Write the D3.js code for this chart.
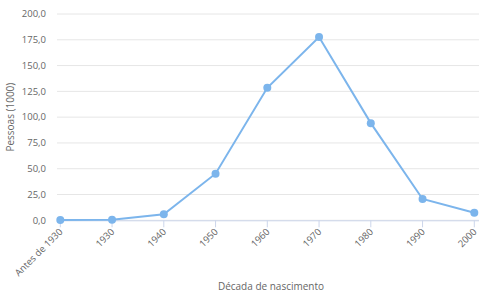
<!DOCTYPE html>
<html>
<head>
<meta charset="utf-8">
<script src="https://cdn.jsdelivr.net/npm/d3@7"></script>
<style>
  body { margin: 0; background: #fff; }
  svg { font-family: "Open Sans", sans-serif; }
</style>
</head>
<body>
<svg id="chart" width="494" height="302"></svg>
<script>
// chart data
const decades = ["Antes de 1930", "1930", "1940", "1950", "1960", "1970", "1980", "1990", "2000"];
const people = [0.4, 0.6, 5.8, 45.2, 128.4, 177.7, 94.2, 20.7, 7.4];
const yTicks = [0, 25, 50, 75, 100, 125, 150, 175, 200];

const svg = d3.select("#chart");
const plotLeft = 57, plotRight = 479;

let x = d3.scalePoint()
  .domain(decades)
  .range([60.3, 474.3]);

let y = d3.scaleLinear()
  .domain([0, 200])
  .range([220.3, 14]);

// grid lines
svg.append("g")
  .selectAll("line")
  .data(yTicks)
  .enter()
  .append("line")
  .attr("x1", plotLeft)
  .attr("x2", plotRight)
  .attr("y1", d => y(d))
  .attr("y2", d => y(d))
  .attr("stroke", "#e6e6e6")
  .attr("stroke-width", 1);

// y labels
const fmt = d => d3.format(".1f")(d).replace(".", ",");
svg.append("g")
  .selectAll("text")
  .data(yTicks)
  .enter()
  .append("text")
  .attr("x", 46)
  .attr("y", d => y(d))
  .attr("dy", "0.35em")
  .attr("text-anchor", "end")
  .attr("font-size", 9.5)
  .attr("fill", "#666")
  .text(fmt);

// x axis line + ticks
svg.append("line")
  .attr("x1", plotLeft)
  .attr("x2", plotRight)
  .attr("y1", y(0) + 0.5)
  .attr("y2", y(0) + 0.5)
  .attr("stroke", "#ccd6eb");

svg.append("g")
  .selectAll("line")
  .data(decades)
  .enter()
  .append("line")
  .attr("x1", d => x(d))
  .attr("x2", d => x(d))
  .attr("y1", y(0))
  .attr("y2", y(0) + 7)
  .attr("stroke", "#ccd6eb");

// x labels, rotated
svg.append("g")
  .selectAll("text")
  .data(decades)
  .enter()
  .append("text")
  .attr("transform", d => `translate(${x(d) + 3},${y(0) + 12}) rotate(-45)`)
  .attr("text-anchor", "end")
  .attr("font-size", 9.5)
  .attr("fill", "#666")
  .text(d => d);

// axis titles
svg.append("text")
  .attr("transform", `translate(14,${(y(0) + y(200)) / 2}) rotate(-90)`)
  .attr("text-anchor", "middle")
  .attr("font-size", 10)
  .attr("fill", "#666")
  .text("Pessoas (1000)");

svg.append("text")
  .attr("x", 271)
  .attr("y", 290)
  .attr("text-anchor", "middle")
  .attr("font-size", 10)
  .attr("fill", "#666")
  .text("Década de nascimento");

// series
const line = d3.line()
  .x((d, i) => x(decades[i]))
  .y(d => y(d));

svg.append("path")
  .datum(people)
  .attr("d", line)
  .attr("fill", "none")
  .attr("stroke", "#7cb5ec")
  .attr("stroke-width", 2);

svg.append("g")
  .selectAll("circle")
  .data(people)
  .enter()
  .append("circle")
  .attr("cx", (d, i) => x(decades[i]))
  .attr("cy", d => y(d))
  .attr("r", 4)
  .attr("fill", "#7cb5ec");
</script>
</body>
</html>
